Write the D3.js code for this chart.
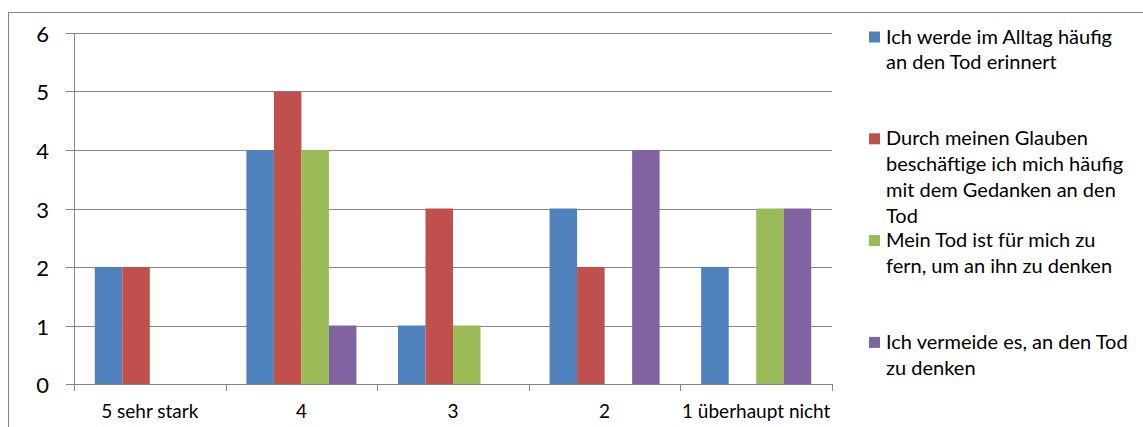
<!DOCTYPE html>
<html>
<head>
<meta charset="utf-8">
<script src="https://cdn.jsdelivr.net/npm/d3@7"></script>
<style>
  html, body { margin: 0; padding: 0; background: #fff; }
  svg { display: block; }
  text { font-family: Lato, "Open Sans", sans-serif; fill: #000; }
</style>
</head>
<body>
<svg id="chart" width="1143" height="427"></svg>
<script>
// Categories (answer scale) and the four statement series
const categories = ["5 sehr stark", "4", "3", "2", "1 überhaupt nicht"];
const seriesNames = [
  ["Ich werde im Alltag häufig", "an den Tod erinnert"],
  ["Durch meinen Glauben", "beschäftige ich mich häufig", "mit dem Gedanken an den", "Tod"],
  ["Mein Tod ist für mich zu", "fern, um an ihn zu denken"],
  ["Ich vermeide es, an den Tod", "zu denken"]
];
const alltag   = [2, 4, 1, 3, 2];
const glauben  = [2, 5, 3, 2, 0];
const zuFern   = [0, 4, 1, 0, 3];
const vermeide = [0, 1, 0, 4, 3];
const seriesValues = [alltag, glauben, zuFern, vermeide];
const yTicks = [0, 1, 2, 3, 4, 5, 6];
const colors = ["#4F81BD", "#C0504D", "#9BBB59", "#8064A2"];

const svg = d3.select("#chart");
const gridColor = "#868686";

// outer chart frame
svg.append("rect")
  .attr("x", 8.5).attr("y", 12.5)
  .attr("width", 1200).attr("height", 500)
  .attr("fill", "none").attr("stroke", gridColor).attr("stroke-width", 1);

const plot = { left: 74, right: 832, top: 33, bottom: 384 };

const x0 = d3.scaleBand()
  .domain(categories.map((d, i) => i))
  .range([plot.left, plot.right])
  .paddingInner(0).paddingOuter(0);

const x1 = d3.scaleBand()
  .domain(d3.range(seriesValues.length))
  .range([0, x0.bandwidth()])
  .paddingInner(0)
  .paddingOuter(0.755);

const y = d3.scaleLinear().domain([0, 6]).range([plot.bottom, plot.top]);

// horizontal gridlines with outside ticks
svg.append("g")
  .selectAll("line")
  .data(yTicks)
  .join("line")
  .attr("x1", plot.left - 8).attr("x2", plot.right)
  .attr("y1", d => Math.round(y(d)) + 0.5)
  .attr("y2", d => Math.round(y(d)) + 0.5)
  .attr("stroke", gridColor).attr("stroke-width", 1);

// y tick labels
svg.append("g")
  .selectAll("text")
  .data(yTicks)
  .join("text")
  .attr("x", 49)
  .attr("y", d => Math.round(y(d)) + 8.5)
  .attr("text-anchor", "end")
  .style("font-size", "22px")
  .text(d => d);

// bars
const groups = svg.append("g")
  .selectAll("g")
  .data(categories.map((c, i) => i))
  .join("g")
  .attr("transform", i => `translate(${x0(i)},0)`);

groups.selectAll("rect")
  .data(i => seriesValues.map((vals, s) => ({ s, v: vals[i] })))
  .join("rect")
  .attr("x", d => x1(d.s))
  .attr("width", x1.bandwidth())
  .attr("y", d => y(d.v))
  .attr("height", d => y(0) - y(d.v))
  .attr("fill", d => colors[d.s]);

// y axis line
svg.append("line")
  .attr("x1", plot.left + 0.5).attr("x2", plot.left + 0.5)
  .attr("y1", plot.top).attr("y2", plot.bottom + 1)
  .attr("stroke", gridColor).attr("stroke-width", 1);

// x axis tick marks at category boundaries
const boundaries = categories.map((c, i) => x0(i)).concat([plot.right]);
svg.append("g")
  .selectAll("line")
  .data(boundaries)
  .join("line")
  .attr("x1", d => Math.round(d) + 0.5).attr("x2", d => Math.round(d) + 0.5)
  .attr("y1", plot.bottom).attr("y2", plot.bottom + 7)
  .attr("stroke", gridColor).attr("stroke-width", 1);

// category labels
svg.append("g")
  .selectAll("text")
  .data(categories)
  .join("text")
  .attr("x", (d, i) => x0(i) + x0.bandwidth() / 2)
  .attr("y", 418)
  .attr("text-anchor", "middle")
  .style("font-size", "19px")
  .text(d => d);

// legend
const legend = svg.append("g");
seriesNames.forEach((lines, s) => {
  const base = 43.5 + s * 101.8;
  legend.append("rect")
    .attr("x", 869).attr("y", base - 12)
    .attr("width", 11).attr("height", 11)
    .attr("fill", colors[s]);
  const t = legend.append("text")
    .attr("x", 886).attr("y", base)
    .style("font-size", "20px");
  lines.forEach((ln, k) => {
    t.append("tspan").attr("x", 886).attr("y", base + k * 25.8).text(ln);
  });
});
</script>
</body>
</html>
